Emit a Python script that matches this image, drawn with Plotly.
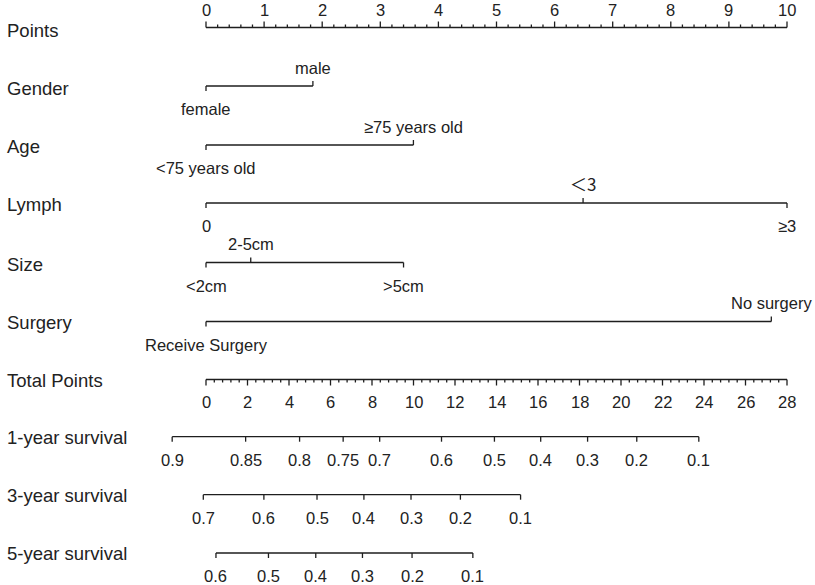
import plotly.graph_objects as go

# Escalas superiores
points_ticks = list(range(0, 11))
points_minor = [round(i * 0.2, 2) for i in range(0, 51)]
total_ticks = list(range(0, 29, 2))
total_minor = [round(i * 0.4, 2) for i in range(0, 71)]
TOTAL_MAX = 28

# Variables del modelo (puntos por nivel)
gender_levels = ["female", "male"]
gender_pts = [0, 1.84]
age_levels = ["<75 years old", "≥75 years old"]
age_pts = [0, 3.57]
lymph_levels = ["0", "＜3", "≥3"]
lymph_pts = [0, 6.49, 10]
size_levels = ["<2cm", "2-5cm", ">5cm"]
size_pts = [0, 0.77, 3.4]
surgery_levels = ["Receive Surgery", "No surgery"]
surgery_pts = [0, 9.73]

# Supervivencia (en puntos totales)
surv1_labels = ["0.9", "0.85", "0.8", "0.75", "0.7", "0.6", "0.5", "0.4", "0.3", "0.2", "0.1"]
surv1_tp = [-1.63, 1.91, 4.51, 6.61, 8.37, 11.35, 13.9, 16.13, 18.39, 20.76, 23.75]
surv3_labels = ["0.7", "0.6", "0.5", "0.4", "0.3", "0.2", "0.1"]
surv3_tp = [-0.13, 2.79, 5.35, 7.61, 9.88, 12.26, 15.16]
surv5_labels = ["0.6", "0.5", "0.4", "0.3", "0.2", "0.1"]
surv5_tp = [0.48, 3.01, 5.29, 7.54, 9.93, 12.86]

# Posiciones verticales de cada fila (px desde arriba)
ROW_Y = {
    "Points": 27.5, "Gender": 86, "Age": 145, "Lymph": 203, "Size": 262.5,
    "Surgery": 321.5, "Total Points": 379.5, "1-year survival": 436.7,
    "3-year survival": 494.7, "5-year survival": 553,
}
LABEL_Y = {
    "Points": 30, "Gender": 88, "Age": 146, "Lymph": 204, "Size": 264,
    "Surgery": 322, "Total Points": 380, "1-year survival": 437,
    "3-year survival": 495, "5-year survival": 553,
}

W, H = 815, 585
X0_PX, X10_PX = 206, 787
PX_PER = (X10_PX - X0_PX) / 10
LINE = "#1e1e1e"
TXT = "#222222"
FONT = "Liberation Sans, Arial, sans-serif"
TICK_SIZE = 16.5
ROW_SIZE = 18.5

fig = go.Figure()
annots = []


def add_segments(segs, width=1.3):
    xs, ys = [], []
    for (xa, ya, xb, yb) in segs:
        xs += [xa, xb, None]
        ys += [ya, yb, None]
    fig.add_trace(go.Scatter(x=xs, y=ys, mode="lines", line=dict(color=LINE, width=width),
                             hoverinfo="skip", showlegend=False))


def add_text(x, y, text, size=TICK_SIZE, family=FONT):
    annots.append(dict(x=x, y=y, xref="x", yref="y", text=text, showarrow=False,
                       xanchor="center", yanchor="middle",
                       font=dict(size=size, color=TXT, family=family)))


def to_x(tp):
    return tp * 10 / TOTAL_MAX


# Eje Points (marcas hacia arriba)
y = ROW_Y["Points"]
segs = [(0, y, 10, y)]
segs += [(p, y, p, y - 6) for p in points_ticks]
segs += [(p, y, p, y - 3) for p in points_minor if p not in points_ticks]
add_segments(segs)
for p in points_ticks:
    add_text(p, y - 17.5, str(p))

# Variables categóricas
for name, levels, pts in [("Gender", gender_levels, gender_pts), ("Age", age_levels, age_pts),
                          ("Lymph", lymph_levels, lymph_pts), ("Size", size_levels, size_pts),
                          ("Surgery", surgery_levels, surgery_pts)]:
    y = ROW_Y[name]
    segs = [(min(pts), y, max(pts), y)]
    for i, (lab, p) in enumerate(zip(levels, pts)):
        if i % 2 == 0:
            segs.append((p, y, p, y + 5))
            add_text(p, y + 23, lab)
        else:
            segs.append((p, y, p, y - 5))
            if lab.startswith("＜"):
                add_text(p, y - 20, lab, size=17, family="Noto Sans CJK SC")
            else:
                add_text(p, y - 18.5, lab)
    add_segments(segs)

# Eje Total Points (marcas hacia abajo)
y = ROW_Y["Total Points"]
segs = [(0, y, to_x(TOTAL_MAX), y)]
segs += [(to_x(t), y, to_x(t), y + 6) for t in total_ticks]
segs += [(to_x(t), y, to_x(t), y + 3) for t in total_minor if t not in total_ticks]
add_segments(segs)
for t in total_ticks:
    add_text(to_x(t), y + 22, str(t))

# Escalas de supervivencia
for name, labels, tps in [("1-year survival", surv1_labels, surv1_tp),
                          ("3-year survival", surv3_labels, surv3_tp),
                          ("5-year survival", surv5_labels, surv5_tp)]:
    y = ROW_Y[name]
    segs = [(to_x(tps[0]), y, to_x(tps[-1]), y)]
    segs += [(to_x(t), y, to_x(t), y + 5) for t in tps]
    add_segments(segs)
    for lab, t in zip(labels, tps):
        add_text(to_x(t), y + 23, lab)

# Etiquetas de filas
for name, ly in LABEL_Y.items():
    annots.append(dict(x=5 / W, y=ly, xref="paper", yref="y", text=name, showarrow=False,
                       xanchor="left", yanchor="middle",
                       font=dict(size=ROW_SIZE, color=TXT, family=FONT)))

fig.update_layout(
    width=W, height=H,
    margin=dict(l=0, r=0, t=0, b=0),
    plot_bgcolor="white", paper_bgcolor="white",
    xaxis=dict(range=[-X0_PX / PX_PER, (W - X0_PX) / PX_PER], visible=False, fixedrange=True),
    yaxis=dict(range=[H, 0], visible=False, fixedrange=True),
    annotations=annots,
    showlegend=False,
)

fig.write_html("out.html", config={"displayModeBar": False},
               post_script="document.body.style.margin='0';")
